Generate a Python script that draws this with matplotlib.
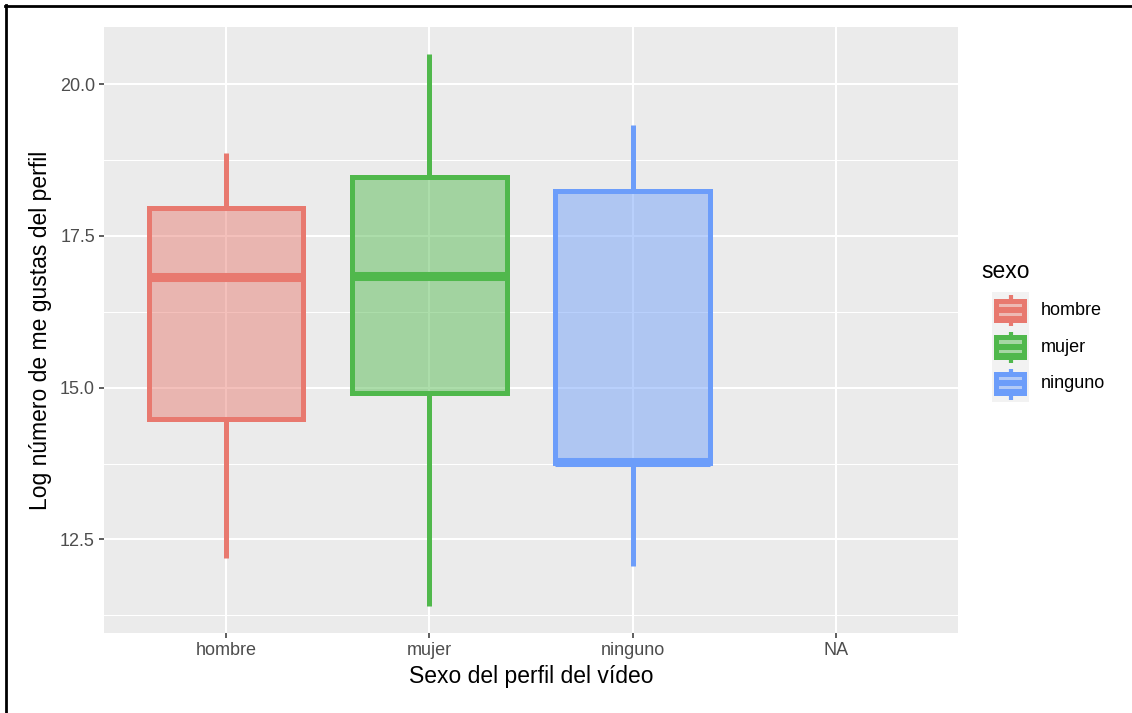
import matplotlib
matplotlib.use("Agg")
import matplotlib.pyplot as plt
import numpy as np
from matplotlib.lines import Line2D
from matplotlib.patches import Rectangle
from matplotlib.ticker import MultipleLocator
from matplotlib.colors import to_rgb, to_rgba

plt.rcParams['font.family'] = ['Liberation Sans', 'DejaVu Sans']

# datos
categorias = ["hombre", "mujer", "ninguno", "NA"]
grupos = ["hombre", "mujer", "ninguno"]
minimo = [12.19, 11.41, 12.07]
q1 = [14.49, 14.92, 13.76]
mediana = [16.83, 16.84, 13.78]
q3 = [17.96, 18.47, 18.24]
maximo = [18.87, 20.49, 19.33]
colores = ["#E8796F", "#50B84C", "#6C9DFA"]

W, H = 1132, 713
fig = plt.figure(figsize=(W / 100, H / 100), dpi=100)
ax = fig.add_axes([104 / W, 1 - 633 / H, (958 - 104) / W, (633 - 27) / H])
ax.set_facecolor("#EBEBEB")
ax.set_axisbelow(True)
for s in ax.spines.values():
    s.set_visible(False)

# grid estilo ggplot
ax.yaxis.set_major_locator(MultipleLocator(2.5))
ax.yaxis.set_minor_locator(MultipleLocator(1.25))
ax.grid(which="major", color="white", lw=1.5)
ax.grid(which="minor", axis="y", color="white", lw=0.75)
ax.tick_params(axis="both", which="minor", length=0)

# cajas
for i, g in enumerate(grupos):
    st = [dict(med=mediana[i], q1=q1[i], q3=q3[i], whislo=minimo[i], whishi=maximo[i], label=g)]
    c = colores[i]
    ax.bxp(st, positions=[i + 1], widths=0.76, showfliers=False, showcaps=False,
           patch_artist=True,
           boxprops=dict(facecolor=to_rgba(c, 0.47), edgecolor=c, lw=3.6),
           whiskerprops=dict(color=c, lw=3.6, solid_capstyle="butt"),
           medianprops=dict(color=c, lw=6.5, solid_capstyle="butt"))

ax.set_xlim(0.4, 4.6)
ax.set_ylim(10.96, 20.94)
ax.set_xticks(range(1, len(categorias) + 1))
ax.set_xticklabels(categorias)
ax.set_yticks([12.5, 15.0, 17.5, 20.0])
ax.set_yticklabels(["12.5", "15.0", "17.5", "20.0"])
ax.tick_params(axis="both", which="major", length=3.5, width=1.1, color="#333333",
               labelsize=13, labelcolor="#4D4D4D", pad=3)
ax.set_xlabel("Sexo del perfil del vídeo", fontsize=16.5, labelpad=4)
ax.set_ylabel("Log número de me gustas del perfil", fontsize=16.5, labelpad=6)

# leyenda dibujada a mano
fig.text(981 / W, 1 - 271 / H, "sexo", fontsize=16.5, va="center", ha="left")
k_top, k_h = 292, 36.7
lax = fig.add_axes([992 / W, 1 - (k_top + 3 * k_h) / H, 37 / W, 3 * k_h / H])
lax.set_xlim(0, 1)
lax.set_ylim(3, 0)
lax.axis("off")
fondo = np.array(to_rgb("#F2F2F2"))
lax.add_patch(Rectangle((0, 0), 1, 3, color=fondo, lw=0, zorder=0))
for i, g in enumerate(grupos):
    c = colores[i]
    relleno = 0.47 * np.array(to_rgb(c)) + 0.53 * fondo
    lax.plot([0.5, 0.5], [i + 0.09, i + 0.93], color=c, lw=3, solid_capstyle="butt", zorder=1)
    lax.add_patch(Rectangle((0.055, i + 0.18), 0.885, 0.66, color=c, lw=0, zorder=2))
    for yy in (0.32, 0.57):
        lax.add_patch(Rectangle((0.19, i + yy), 0.61, 0.085, color=relleno, lw=0, zorder=3))
    fig.text(1041 / W, 1 - (k_top + k_h * i + k_h / 2) / H, g, fontsize=13, va="center",
             ha="left", color="black")

# marco de la captura
fig.add_artist(Line2D([5 / W, 1], [1 - 6 / H, 1 - 6 / H], color="black", lw=2))
fig.add_artist(Line2D([6 / W, 6 / W], [0, 1 - 5 / H], color="black", lw=2))

fig.savefig("out.png", dpi=100)
